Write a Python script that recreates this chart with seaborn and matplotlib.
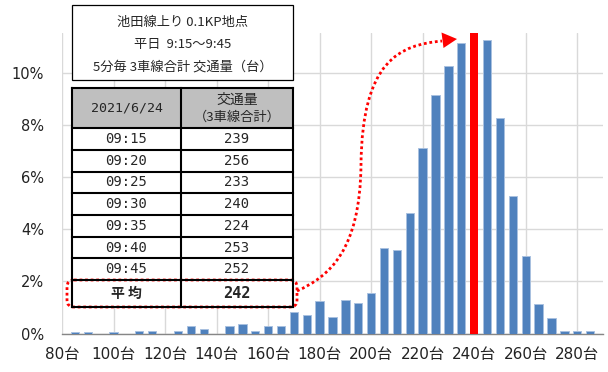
import matplotlib
matplotlib.use("Agg")
import matplotlib.pyplot as plt
from matplotlib.patches import Rectangle, FancyBboxPatch, PathPatch, Polygon
from matplotlib.path import Path
from matplotlib.ticker import FuncFormatter, MultipleLocator, FixedLocator
import pandas as pd
import seaborn as sns

# Share of 5-minute intervals (%) by traffic volume bin (vehicles, 3 lanes total)
volume_bins = [85, 90, 95, 100, 105, 110, 115, 120, 125, 130,
               135, 140, 145, 150, 155, 160, 165, 170, 175, 180,
               185, 190, 195, 200, 205, 210, 215, 220, 225, 230,
               235, 245, 250, 255, 260, 265, 270, 275, 280, 285]
share_pct = [0.05, 0.05, 0.0, 0.05, 0.0, 0.10, 0.10, 0.0, 0.10, 0.28,
             0.17, 0.0, 0.28, 0.36, 0.10, 0.28, 0.28, 0.82, 0.73, 1.24,
             0.64, 1.29, 1.18, 1.54, 3.27, 3.20, 4.63, 7.14, 9.17, 10.28,
             11.18, 11.30, 8.27, 5.28, 2.97, 1.13, 0.58, 0.10, 0.10, 0.10]

# Observed volumes on the reference day
table_date = "2021/6/24"
table_times = ["09:15", "09:20", "09:25", "09:30", "09:35", "09:40", "09:45"]
table_volumes = [239, 256, 233, 240, 224, 253, 252]
table_average = round(sum(table_volumes) / len(table_volumes))
average_bin = table_average // 5 * 5

title_lines = ["池田線上り 0.1KP地点", "平日  9:15～9:45", "5分毎 3車線合計 交通量（台）"]

BLUE = "#4F81BD"
RED = "#FF0000"
W, H = 608, 372

sns.set_style("white")
plt.rcParams["font.family"] = ["DejaVu Sans", "Noto Sans CJK JP"]

fig = plt.figure(figsize=(W / 100, H / 100), dpi=100)
ax = fig.add_axes([62 / W, 1 - 333.5 / H, 541 / W, 300.5 / H])

df = pd.DataFrame({"bin": volume_bins, "share": share_pct})
sns.barplot(data=df, x="bin", y="share", native_scale=True, width=0.65,
            color=BLUE, saturation=1, edgecolor="#A9C1E0", linewidth=0.7,
            ax=ax, zorder=3)

# highlight the bin containing the day's average
ax.axvspan(average_bin - 1.65, average_bin + 1.65, color=RED, zorder=4, lw=0)

ax.set_xlim(80, 290)
ax.set_ylim(0, 11.55)
ax.xaxis.set_major_locator(MultipleLocator(20))
ax.xaxis.set_minor_locator(FixedLocator(range(90, 291, 20)))
ax.yaxis.set_major_locator(FixedLocator([0, 2, 4, 6, 8, 10]))
ax.xaxis.set_major_formatter(FuncFormatter(lambda v, p: f"{int(v)}台"))
ax.yaxis.set_major_formatter(FuncFormatter(lambda v, p: f"{int(v)}%"))
ax.set_xlabel("")
ax.set_ylabel("")
ax.grid(True, which="major", color="#D9D9D9", lw=1.0, zorder=0)
ax.set_axisbelow(True)
for s in ("left", "top", "right"):
    ax.spines[s].set_visible(False)
ax.spines["bottom"].set_color("#868686")
ax.spines["bottom"].set_linewidth(1.0)
ax.tick_params(axis="x", which="both", length=5, width=1, color="#868686",
               labelsize=11, pad=5, labelcolor="#222222")
ax.tick_params(axis="y", length=0, labelsize=10.5, pad=13, labelcolor="#222222")

# Overlay in pixel coordinates for the info box, table and arrow
ov = fig.add_axes([0, 0, 1, 1])
ov.set_xlim(0, W)
ov.set_ylim(H, 0)
ov.axis("off")
ov.set_zorder(10)

JP = ["Noto Sans CJK JP"]
MONO = ["DejaVu Sans Mono", "Noto Sans CJK JP"]

ov.add_patch(Rectangle((72, 5), 221, 75, fc="white", ec="black", lw=0.9))
for ty, line in zip([22, 44.5, 67], title_lines):
    ov.text(182.5, ty, line, ha="center", va="center", fontsize=9.5, family=JP)

x0, xm, x1 = 72, 181, 293
row_y = [88, 128, 150, 172, 193, 215, 237, 258, 280, 307]
ov.add_patch(Rectangle((x0, row_y[0]), x1 - x0, row_y[1] - row_y[0], fc="#BFBFBF", ec="none"))
ov.add_patch(Rectangle((x0, row_y[1]), x1 - x0, row_y[-1] - row_y[1], fc="white", ec="none"))
for yy in row_y:
    ov.plot([x0, x1], [yy, yy], color="black", lw=1.5, solid_capstyle="projecting")
for xx in (x0, xm, x1):
    ov.plot([xx, xx], [row_y[0], row_y[-1]], color="black", lw=1.5, solid_capstyle="projecting")

cx1, cx2 = (x0 + xm) / 2, (xm + x1) / 2
ov.text(cx1, 108, table_date, ha="center", va="center", fontsize=9.5, family=MONO)
ov.text(cx2, 100, "交通量", ha="center", va="center", fontsize=10, family=JP)
ov.text(cx2, 117, "（3車線合計）", ha="center", va="center", fontsize=9.5, family=JP)
for i, (t, v) in enumerate(zip(table_times, table_volumes)):
    yc = (row_y[i + 1] + row_y[i + 2]) / 2
    ov.text(cx1, yc, t, ha="center", va="center", fontsize=10, family=MONO)
    ov.text(cx2, yc, str(v), ha="center", va="center", fontsize=10, family=MONO)
ya = (row_y[-2] + row_y[-1]) / 2
ov.text(cx1, ya, "平 均", ha="center", va="center", fontsize=10, family=JP, fontweight="bold")
ov.text(cx2, ya, str(table_average), ha="center", va="center", fontsize=11,
        family=MONO, fontweight="bold")

# dotted outline around the average row
ov.add_patch(FancyBboxPatch((69, 282), 226, 23, boxstyle="round,pad=2,rounding_size=7",
                            fc="none", ec=RED, lw=2.0, ls=(0, (1, 1))))

# dotted curved arrow from the average toward its bin
verts = [(297, 291), (330, 276), (360, 250), (361, 165),
         (362, 60), (400, 45), (442, 41)]
codes = [Path.MOVETO] + [Path.CURVE4] * 6
ov.add_patch(PathPatch(Path(verts, codes), fc="none", ec=RED, lw=2.0, ls=(0, (1, 1))))
ov.add_patch(Polygon([(457, 39), (441.5, 32.5), (443.5, 48)], closed=True, fc=RED, ec="none"))

fig.savefig("out.png", dpi=100)
